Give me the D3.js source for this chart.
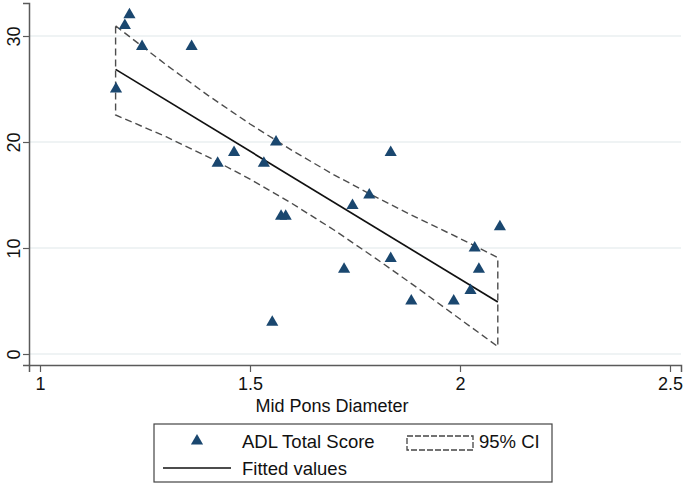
<!DOCTYPE html>
<html>
<head>
<meta charset="utf-8">
<script src="https://cdn.jsdelivr.net/npm/d3@7"></script>
<style>
  html, body { margin: 0; padding: 0; background: #fff; }
  svg { display: block; font-family: "Liberation Sans", Arial, sans-serif; }
</style>
</head>
<body>
<svg id="chart" width="685" height="487"></svg>
<script>
// data
const diameter = [1.181, 1.202, 1.213, 1.243, 1.361, 1.423, 1.462, 1.533, 1.562, 1.574, 1.585, 1.553,
                  1.744, 1.784, 1.835, 2.095, 2.035, 1.835, 2.045, 1.724, 2.025, 1.884, 1.985];
const adlScore = [25, 31, 32, 29, 29, 18, 19, 18, 20, 13, 13, 3,
                  14, 15, 19, 12, 10, 9, 8, 8, 6, 5, 5];

const fitX = [1.18, 2.09];
const fitY = [26.85, 4.9];

const ciX     = [1.18, 1.3, 1.4, 1.5, 1.6, 1.7, 1.8, 1.9, 2.0, 2.09];
const ciUpper = [30.95, 27.3, 24.4, 21.7, 19.2, 16.9, 14.8, 12.8, 10.9, 9.1];
const ciLower = [22.55, 20.5, 18.6, 16.5, 14.2, 11.7, 9.0, 6.2, 3.3, 0.7];

const xTicks = [1, 1.5, 2, 2.5];
const yTicks = [0, 10, 20, 30];
const xTitle = "Mid Pons Diameter";
const legendLabels = ["ADL Total Score", "95% CI", "Fitted values"];

(function () {
  const svg = d3.select("#chart");
  const navy = "#1a476f";
  const axisCol = "#5a5a5a";
  const fontSize = 18;
  const legendFont = 18.5;

  const x = d3.scaleLinear().domain([1 - 11 / 420, 2.5 + 11 / 420]).range([29, 681]);
  const y = d3.scaleLinear().domain([-11 / 10.6, 351 / 10.6]).range([365, 3]);

  // grid
  svg.append("g").selectAll("line")
    .data(yTicks)
    .join("line")
    .attr("x1", 30).attr("x2", 681)
    .attr("y1", (d) => y(d)).attr("y2", (d) => y(d))
    .attr("stroke", "#eaeff1")
    .attr("stroke-width", 1.5);

  // CI band outline
  const ciPts = ciX.map((v, i) => [v, ciUpper[i]])
    .concat(ciX.map((v, i) => [v, ciLower[i]]).reverse());
  svg.append("path")
    .datum(ciPts)
    .attr("d", d3.line().x((d) => x(d[0])).y((d) => y(d[1])).curve(d3.curveLinearClosed))
    .attr("fill", "none")
    .attr("stroke", "#4d4d4d")
    .attr("stroke-width", 1.4)
    .attr("stroke-dasharray", "7,4");

  // fitted line
  svg.append("path")
    .datum(fitX.map((v, i) => [v, fitY[i]]))
    .attr("d", d3.line().x((d) => x(d[0])).y((d) => y(d[1])))
    .attr("fill", "none")
    .attr("stroke", "#111")
    .attr("stroke-width", 1.7);

  // points
  const tri = d3.symbol().type(d3.symbolTriangle).size(64);
  svg.append("g").selectAll("path")
    .data(diameter.map((v, i) => [v, adlScore[i]]))
    .join("path")
    .attr("d", tri)
    .attr("transform", (d) => `translate(${x(d[0])},${y(d[1])})`)
    .attr("fill", navy);

  // x axis
  const gx = svg.append("g")
    .attr("transform", `translate(0,${y.range()[0]})`)
    .call(d3.axisBottom(x).tickValues(xTicks).tickFormat(d3.format("")).tickSize(7).tickPadding(5));
  gx.select(".domain").attr("stroke", axisCol).attr("stroke-width", 1.5);
  gx.selectAll(".tick line").attr("stroke", axisCol).attr("stroke-width", 1.2);
  gx.selectAll(".tick text").attr("font-size", fontSize).attr("fill", "#111")
    .attr("font-family", "Liberation Sans, Arial, sans-serif");

  // y axis
  const gy = svg.append("g")
    .attr("transform", `translate(${x.range()[0]},0)`)
    .call(d3.axisLeft(y).tickValues(yTicks).tickSize(6).tickPadding(4));
  gy.select(".domain").attr("stroke", axisCol).attr("stroke-width", 1.5);
  gy.selectAll(".tick line").attr("stroke", axisCol).attr("stroke-width", 1.2);
  gy.selectAll(".tick text")
    .attr("font-size", fontSize).attr("fill", "#111")
    .attr("font-family", "Liberation Sans, Arial, sans-serif")
    .attr("x", null)
    .attr("text-anchor", "middle")
    .attr("transform", "translate(-15,0) rotate(-90)")
    .attr("dy", "0.35em");

  // axis title
  svg.append("text")
    .attr("x", 332).attr("y", 412)
    .attr("text-anchor", "middle")
    .attr("font-size", fontSize)
    .attr("fill", "#111")
    .text(xTitle);

  // legend
  const lg = svg.append("g");
  lg.append("rect")
    .attr("x", 154).attr("y", 424).attr("width", 398).attr("height", 58)
    .attr("fill", "#fff").attr("stroke", "#444").attr("stroke-width", 1.2);

  lg.append("path").attr("d", tri).attr("transform", "translate(197,441)").attr("fill", navy);
  lg.append("text").attr("x", 242).attr("y", 448).attr("font-size", legendFont).attr("fill", "#111")
    .text(legendLabels[0]);

  lg.append("rect")
    .attr("x", 407).attr("y", 436).attr("width", 66).attr("height", 14)
    .attr("fill", "none").attr("stroke", "#444").attr("stroke-width", 1.3)
    .attr("stroke-dasharray", "6,2");
  lg.append("text").attr("x", 479).attr("y", 448).attr("font-size", legendFont).attr("fill", "#111")
    .text(legendLabels[1]);

  lg.append("line")
    .attr("x1", 163).attr("x2", 231).attr("y1", 468).attr("y2", 468)
    .attr("stroke", "#111").attr("stroke-width", 1.5);
  lg.append("text").attr("x", 242).attr("y", 475).attr("font-size", legendFont).attr("fill", "#111")
    .text(legendLabels[2]);
})();
</script>
</body>
</html>
